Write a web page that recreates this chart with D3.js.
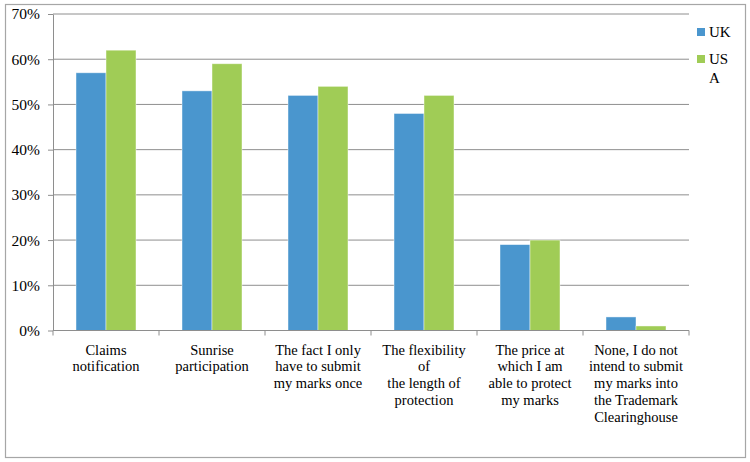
<!DOCTYPE html>
<html>
<head>
<meta charset="utf-8">
<script src="https://cdn.jsdelivr.net/npm/d3@7"></script>
<style>
  body { margin: 0; background: #fff; }
</style>
</head>
<body>
<div id="chart"></div>
<script>
// Survey chart: what users value about the Trademark Clearinghouse

const categories = ['claims', 'sunrise', 'once', 'flex', 'price', 'none'];
const categoryLines = [
  ['Claims', 'notification'],
  ['Sunrise', 'participation'],
  ['The fact I only', 'have to submit', 'my marks once'],
  ['The flexibility', 'of', 'the length of', 'protection'],
  ['The price at', 'which  I am', 'able to protect', 'my marks'],
  ['None, I do not', 'intend to submit', 'my marks into', 'the Trademark', 'Clearinghouse']
];
const seriesNames = ['UK', 'USA'];
const ukValues = [0.57, 0.53, 0.52, 0.48, 0.19, 0.03];
const usaValues = [0.62, 0.59, 0.54, 0.52, 0.20, 0.01];
const yTicks = [0, 0.1, 0.2, 0.3, 0.4, 0.5, 0.6, 0.7];
const seriesColors = ['#4a96ce', '#a0cc56'];

const width = 750;
const height = 462;
const plot = { left: 53, right: 689, top: 14, bottom: 330.5 };
const serif = '"Liberation Serif"';

const svg = d3.select('#chart')
  .append('svg')
  .attr('width', width)
  .attr('height', height);

// outer frame
svg.append('rect')
  .attr('x', 5.5)
  .attr('y', 4.5)
  .attr('width', 740)
  .attr('height', 453)
  .attr('fill', '#fff')
  .attr('stroke', '#a6a6a6')
  .attr('stroke-width', 1.2);

const x0 = d3.scaleBand()
  .domain(categories)
  .range([plot.left, plot.right]);

const x1 = d3.scaleBand()
  .domain(seriesNames)
  .range([23, x0.bandwidth() - 23]);

const y = d3.scaleLinear()
  .domain([0, 0.7])
  .range([plot.bottom, plot.top]);

// gridlines
svg.append('g')
  .selectAll('line')
  .data(yTicks.slice(1))
  .join('line')
  .attr('x1', plot.left)
  .attr('x2', plot.right)
  .attr('y1', d => y(d))
  .attr('y2', d => y(d))
  .attr('stroke', '#8e8e8e')
  .attr('stroke-width', 1);

// bars
const rows = categories.map((c, i) => ({
  cat: c,
  values: [ukValues[i], usaValues[i]]
}));

svg.append('g')
  .selectAll('g')
  .data(rows)
  .join('g')
  .attr('transform', d => `translate(${x0(d.cat)},0)`)
  .selectAll('rect')
  .data(d => d.values.map((v, k) => ({ name: seriesNames[k], value: v, k })))
  .join('rect')
  .attr('x', d => x1(d.name))
  .attr('y', d => y(d.value))
  .attr('width', x1.bandwidth())
  .attr('height', d => y(0) - y(d.value))
  .attr('fill', d => seriesColors[d.k])
  .attr('stroke', 'rgba(255,255,255,0.55)')
  .attr('stroke-width', 0.8);

// y axis
const yAxis = svg.append('g')
  .attr('transform', `translate(${plot.left},0)`)
  .call(d3.axisLeft(y)
    .tickValues(yTicks)
    .tickFormat(d3.format('.0%'))
    .tickSizeInner(5)
    .tickSizeOuter(0)
    .tickPadding(8))
  .attr('font-family', serif)
  .attr('font-size', 15.5);

yAxis.select('.domain').attr('stroke', '#8e8e8e');
yAxis.selectAll('.tick line').attr('stroke', '#8e8e8e');
yAxis.selectAll('.tick text').attr('fill', '#000');

// x axis line and boundary ticks
const xAxis = svg.append('g');
xAxis.append('line')
  .attr('x1', plot.left)
  .attr('x2', plot.right)
  .attr('y1', y(0))
  .attr('y2', y(0))
  .attr('stroke', '#8e8e8e');

const boundaries = categories.map(c => x0(c)).concat([plot.right]);
xAxis.selectAll('.xtick')
  .data(boundaries)
  .join('line')
  .attr('class', 'xtick')
  .attr('x1', d => d)
  .attr('x2', d => d)
  .attr('y1', y(0))
  .attr('y2', y(0) + 5)
  .attr('stroke', '#8e8e8e');

// category labels
xAxis.selectAll('.xlabel')
  .data(categories)
  .join('text')
  .attr('class', 'xlabel')
  .attr('text-anchor', 'middle')
  .attr('font-family', serif)
  .attr('font-size', 14.5)
  .attr('transform', d => `translate(${x0(d) + x0.bandwidth() / 2},${y(0) + 24})`)
  .selectAll('tspan')
  .data((d, i) => categoryLines[i])
  .join('tspan')
  .attr('x', 0)
  .attr('y', (d, j) => j * 16.8)
  .text(d => d);

// legend
const legendLines = [['UK'], ['US', 'A']];
const legend = svg.append('g')
  .selectAll('g')
  .data(seriesNames)
  .join('g')
  .attr('transform', (d, i) => `translate(697,${28 + i * 27})`);

legend.append('rect')
  .attr('width', 8)
  .attr('height', 8)
  .attr('fill', (d, i) => seriesColors[i]);

legend.append('text')
  .attr('font-family', serif)
  .attr('font-size', 15)
  .selectAll('tspan')
  .data((d, i) => legendLines[i])
  .join('tspan')
  .attr('x', 12)
  .attr('y', (d, j) => 9 + j * 18.5)
  .text(d => d);
</script>
</body>
</html>
